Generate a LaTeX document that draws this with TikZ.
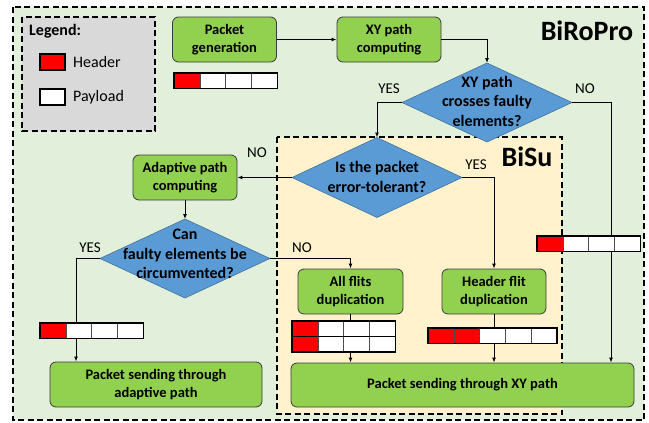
\documentclass[tikz,border=0pt]{standalone}
\usepackage{fontspec}
\setmainfont{Carlito}
\usetikzlibrary{shapes.geometric,arrows.meta}
\definecolor{outerbg}{HTML}{E2EFDA}
\definecolor{bisubg}{HTML}{FFF2CC}
\definecolor{legbg}{HTML}{D9D9D9}
\definecolor{boxgreen}{HTML}{92D050}
\definecolor{boxline}{HTML}{3B3B3B}
\definecolor{diablue}{HTML}{5B9BD5}
\definecolor{dialine}{HTML}{41719C}
\definecolor{flitred}{HTML}{FF0000}
\newcommand{\flitbar}[4]{%
  \foreach \i in {1,...,#3}{%
    \ifnum\i>#4\relax\def\fc{white}\else\def\fc{flitred}\fi
    \filldraw[fill=\fc, draw=black!70, line width=0.6pt] ({#1+(\i-1)*25.8},#2) rectangle ++(25.8,15.5);
  }
  \draw[line width=1.4pt] (#1,#2) rectangle ++({#3*25.8},15.5);
}
\begin{document}
\begin{tikzpicture}[x=1pt,y=-1pt,
  box/.style={draw=boxline, fill=boxgreen, rounded corners=6pt, line width=0.8pt,
    font=\fontsize{14.5}{17.5}\selectfont\bfseries, align=center, inner sep=0pt,
    minimum width=104pt, minimum height=45pt},
  dia/.style={diamond, draw=dialine, fill=diablue, line width=0.6pt, inner sep=0pt, outer sep=0pt,
    minimum width=170pt, minimum height=79pt},
  diatext/.style={font=\fontsize{16}{19.5}\selectfont\bfseries, align=center, inner sep=0pt},
  lbl/.style={font=\fontsize{15}{18}\selectfont, inner sep=0pt},
  arr/.style={-{Latex[length=5pt,width=4pt]}, line width=1pt},
  ln/.style={line width=1pt},
  dashbox/.style={dash pattern=on 6pt off 3.5pt, line width=1.5pt},
  title/.style={font=\fontsize{28}{32}\selectfont\bfseries, inner sep=0pt}
]
\useasboundingbox (0,0) rectangle (649,423);
% containers
\filldraw[fill=outerbg, draw=black, dashbox] (13,7) rectangle (644,420);
\filldraw[fill=legbg, draw=black, dashbox] (22,17) rectangle (155,131);
\filldraw[fill=bisubg, draw=black, dashbox] (277,137) rectangle (562,414);
\node[title] (tbiropro) at (587,31) {BiRoPro};
\node[title] (tbisu) at (527,157) {BiSu};
% legend
\node[font=\fontsize{16}{19}\selectfont\bfseries, anchor=west, inner sep=0pt] (legt) at (29,31) {Legend:};
\node[draw=black, fill=flitred, line width=1.4pt, minimum width=25pt, minimum height=16pt, inner sep=0pt] (legh) at (52.5,62) {};
\node[font=\fontsize{16}{19}\selectfont, anchor=west, inner sep=0pt] (leght) at (73,62) {Header};
\node[draw=black, fill=white, line width=1.4pt, minimum width=25pt, minimum height=16pt, inner sep=0pt] (legp) at (52.5,97) {};
\node[font=\fontsize{16}{19}\selectfont, anchor=west, inner sep=0pt] (legpt) at (73,97) {Payload};
% process boxes
\node[box] (pgen) at (224.5,39.5) {Packet\\generation};
\node[box] (xycomp) at (389,39.5) {XY path\\computing};
\node[box] (adapt) at (185,177.5) {Adaptive path\\computing};
\node[box, minimum width=105pt] (afdup) at (350.5,291.5) {All flits\\duplication};
\node[box] (hdup) at (494,291.5) {Header flit\\duplication};
\node[box, minimum width=212pt] (sendad) at (156,384.5) {Packet sending through\\adaptive path};
\node[box, minimum width=343pt, minimum height=44pt] (sendxy) at (462.5,385) {Packet sending through XY path};
% decisions
\node[dia] (d1) at (487,102.5) {};
\node[diatext] (d1t) at (487,101) {XY path\\crosses faulty\\elements?};
\node[dia, minimum height=80pt] (d2) at (377,177.5) {};
\node[diatext] (d2t) at (377,177) {Is the packet\\error-tolerant?};
\node[dia] (d3) at (185,258.5) {};
\node[diatext] (d3t) at (185,254) {Can\\faulty elements be\\circumvented?};
% connectors
\coordinate (c1) at (611,102.5);
\coordinate (c2) at (76,258.5);
\draw[arr] (pgen.east) -- (xycomp.west);
\draw[arr] (xycomp.east) -| (d1.north);
\draw[arr] (d1.west) -| (d2.north);
\draw[arr] (d1.east) -- (c1) -- (c1 |- sendxy.north);
\draw[arr] (d2.west) -- (adapt.east);
\draw[arr] (d2.east) -| (hdup.north);
\draw[arr] (adapt.south) -- (d3.north);
\draw[arr] (d3.west) -- (c2) -- (c2 |- sendad.north);
\draw[arr] (d3.east) -| (afdup.north);
\draw[arr] (afdup.south) -- (afdup.south |- sendxy.north);
\draw[arr] (hdup.south) -- (hdup.south |- sendxy.north);
% flit bars
\flitbar{174}{73}{4}{1}
\flitbar{537}{236}{4}{1}
\flitbar{40}{323}{4}{1}
\flitbar{292}{321}{4}{1}
\flitbar{292}{336.5}{4}{1}
\flitbar{428}{328}{5}{2}
% branch labels
\node[lbl] (y1) at (389,89) {YES};
\node[lbl] (n1) at (585,89) {NO};
\node[lbl] (n2) at (257,153) {NO};
\node[lbl] (y2) at (476,165) {YES};
\node[lbl] (y3) at (90,248) {YES};
\node[lbl] (n3) at (302,248) {NO};
\end{tikzpicture}
\end{document}
